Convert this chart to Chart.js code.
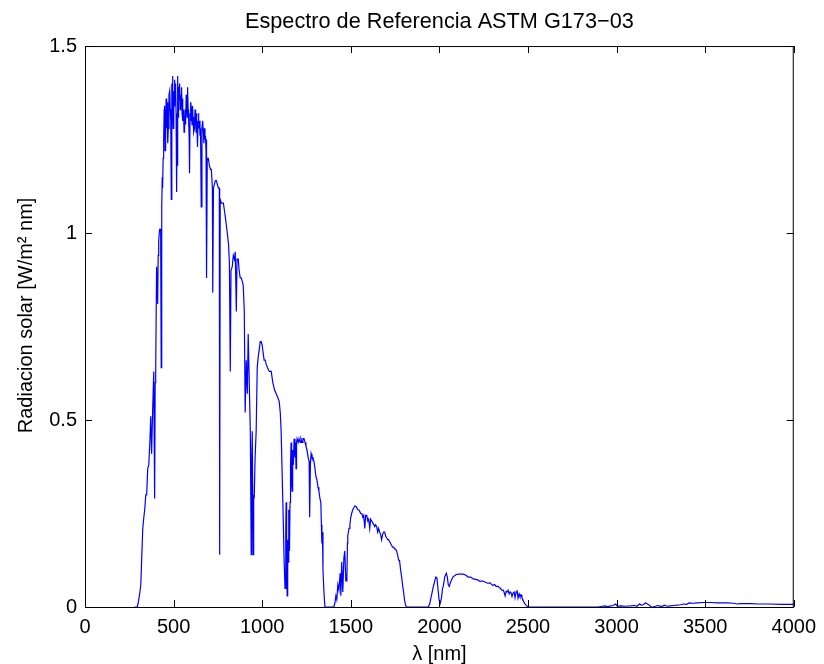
<!DOCTYPE html>
<html>
<head>
<meta charset="utf-8">
<script src="https://cdn.jsdelivr.net/npm/chart.js@4.4.1/dist/chart.umd.min.js"></script>
<style>
  body { margin: 0; background: #fff; }
  canvas { display: block; }
</style>
</head>
<body>
<canvas id="grafico" width="824" height="664"></canvas>
<script>
// espectro, por bandas (lambda en nm, radiacion en W/m2 nm)
const visibleLambda = [
  280, 295, 300, 310, 315, 320, 326, 332, 337, 343, 348, 354, 360, 366, 371, 376, 382, 388, 393, 396,
  399, 404, 410, 413, 416, 421, 427, 430, 433, 436, 438, 441, 444, 447, 449, 452, 455, 458, 461, 463,
  466, 468, 470, 474, 478, 481, 484, 487, 490, 492, 494, 496, 498, 501, 504, 506, 509, 511, 514, 517,
  520, 522, 524, 526, 528, 531, 534, 537, 540, 543, 545, 548, 550, 553, 556, 559, 562, 565, 568, 571,
  574, 577, 579, 582, 585, 588, 590, 593, 595, 598, 601, 604, 607, 610, 612, 615, 618, 621, 624, 627,
  629, 632, 635, 638, 640, 643, 646, 649, 652, 656, 660, 664, 668, 671, 674, 677, 680, 683, 685, 687,
  690, 696
];
const visibleRad = [
  0, 0, 0.01, 0.04, 0.06, 0.13, 0.21, 0.24, 0.26, 0.30, 0.30, 0.37, 0.38, 0.44, 0.51, 0.41, 0.53, 0.63, 0.29, 0.60,
  0.63, 0.91, 0.81, 0.94, 0.98, 1.01, 1.01, 0.64, 1.07, 1.15, 1.12, 1.20, 1.25, 1.33, 1.34, 1.22, 1.30, 1.36, 1.28, 1.33,
  1.35, 1.24, 1.28, 1.37, 1.38, 1.33, 1.30, 1.09, 1.40, 1.36, 1.42, 1.33, 1.28, 1.38, 1.34, 1.41, 1.36, 1.40, 1.32, 1.11,
  1.30, 1.18, 1.42, 1.31, 1.35, 1.39, 1.40, 1.33, 1.37, 1.34, 1.39, 1.32, 1.36, 1.30, 1.33, 1.27, 1.28, 1.33, 1.29, 1.37,
  1.35, 1.31, 1.39, 1.33, 1.30, 1.25, 1.16, 1.32, 1.30, 1.35, 1.33, 1.29, 1.34, 1.30, 1.31, 1.27, 1.28, 1.33, 1.31, 1.27,
  1.32, 1.30, 1.23, 1.30, 1.32, 1.28, 1.30, 1.26, 1.28, 1.07, 1.28, 1.30, 1.27, 1.24, 1.28, 1.25, 1.26, 1.22, 1.25, 0.88,
  1.20, 1.20
];

const nir1Lambda = [
  702, 708, 713, 719, 721, 725, 730, 736, 741, 747, 753, 758, 760, 763, 770, 776, 781, 790, 798, 803,
  810, 815, 820, 824, 831, 837, 843, 848, 854, 858, 865, 870, 876, 882, 888, 893, 899, 904, 910, 916,
  921, 927, 933, 938, 941, 944, 949, 952, 955, 960, 966, 972, 978, 984, 989, 994, 1000, 1005, 1011, 1017,
  1022, 1030, 1040, 1051, 1060, 1070, 1079, 1088, 1096, 1102, 1107, 1112, 1118, 1124, 1129, 1133, 1135, 1138, 1141, 1144,
  1146, 1150, 1154, 1157, 1160, 1163, 1166, 1169, 1172, 1176, 1180, 1185, 1188, 1191, 1194, 1197, 1203, 1208, 1214, 1219,
  1225, 1230, 1236, 1242, 1247, 1253, 1259, 1265, 1268, 1272, 1276, 1281, 1286, 1292, 1298, 1303, 1309, 1315, 1320, 1326,
  1331, 1334, 1337, 1340, 1343, 1348, 1354
];
const nir1Rad = [
  1.18, 1.17, 1.17, 1.12, 0.84, 1.12, 1.13, 1.14, 1.14, 1.13, 1.12, 1.12, 0.14, 1.09, 1.08, 1.08, 1.08, 1.05, 1.02, 1.00,
  0.97, 0.92, 0.63, 0.90, 0.91, 0.94, 0.93, 0.95, 0.79, 0.93, 0.93, 0.90, 0.88, 0.88, 0.87, 0.86, 0.79, 0.52, 0.66, 0.57,
  0.73, 0.60, 0.47, 0.14, 0.40, 0.47, 0.14, 0.30, 0.29, 0.40, 0.47, 0.64, 0.67, 0.69, 0.71, 0.71, 0.70, 0.68, 0.66, 0.66,
  0.65, 0.64, 0.63, 0.63, 0.60, 0.58, 0.57, 0.56, 0.55, 0.52, 0.47, 0.37, 0.25, 0.12, 0.05, 0.20, 0.28, 0.10, 0.03, 0.18,
  0.12, 0.26, 0.15, 0.28, 0.38, 0.44, 0.33, 0.31, 0.42, 0.38, 0.45, 0.40, 0.44, 0.37, 0.44, 0.45, 0.44, 0.45, 0.44, 0.45,
  0.44, 0.45, 0.45, 0.44, 0.43, 0.42, 0.40, 0.39, 0.24, 0.38, 0.41, 0.40, 0.40, 0.39, 0.37, 0.35, 0.34, 0.32, 0.31, 0.29,
  0.28, 0.22, 0.17, 0.20, 0.10, 0.045, 0
];

const nir2Lambda = [
  1404, 1410, 1416, 1421, 1427, 1433, 1440, 1444, 1449, 1455, 1461, 1466, 1472, 1478, 1481, 1483, 1490, 1495, 1500, 1505,
  1511, 1517, 1522, 1528, 1534, 1540, 1545, 1551, 1556, 1562, 1568, 1573, 1579, 1584, 1590, 1596, 1601, 1607, 1612, 1618,
  1624, 1630, 1635, 1640, 1646, 1652, 1657, 1663, 1668, 1674, 1680, 1685, 1691, 1697, 1702, 1708, 1713, 1719, 1725, 1730,
  1736, 1742, 1748, 1753, 1758, 1764, 1770, 1775, 1781, 1787, 1792, 1798, 1803, 1809, 1815, 1826
];
const nir2Rad = [
  0, 0.01, 0.03, 0.02, 0.06, 0.045, 0.09, 0.03, 0.12, 0.04, 0.13, 0.15, 0.07, 0.07, 0.17, 0.19, 0.21, 0.22, 0.24, 0.25,
  0.26, 0.265, 0.27, 0.27, 0.265, 0.26, 0.26, 0.255, 0.25, 0.25, 0.24, 0.245, 0.21, 0.245, 0.245, 0.23, 0.235, 0.21, 0.235, 0.23,
  0.225, 0.22, 0.215, 0.22, 0.215, 0.20, 0.21, 0.20, 0.195, 0.18, 0.195, 0.20, 0.20, 0.19, 0.185, 0.18, 0.18, 0.175, 0.17, 0.165,
  0.16, 0.16, 0.155, 0.155, 0.15, 0.14, 0.125, 0.125, 0.10, 0.08, 0.06, 0.04, 0.02, 0.005, 0, 0
];

const nir3Lambda = [
  1938, 1946, 1955, 1966, 1974, 1980, 1986, 1992, 1998, 2005, 2012, 2018, 2022, 2030, 2039, 2045, 2050, 2056, 2062, 2067,
  2076, 2084, 2095, 2107, 2120, 2135, 2150, 2163, 2177, 2191, 2205, 2219, 2230, 2240, 2258, 2275, 2285, 2292, 2300, 2312,
  2320, 2331, 2345, 2352, 2360, 2365, 2371, 2377, 2382, 2388, 2394, 2400, 2405, 2410, 2416, 2422, 2427, 2433, 2438, 2444,
  2450, 2455, 2461, 2466, 2472, 2480, 2489, 2500
];
const nir3Rad = [
  0, 0.01, 0.03, 0.055, 0.07, 0.08, 0.078, 0.05, 0.02, 0.01, 0.025, 0.05, 0.055, 0.08, 0.09, 0.08, 0.06, 0.055, 0.065, 0.07,
  0.08, 0.083, 0.087, 0.088, 0.088, 0.088, 0.085, 0.08, 0.08, 0.075, 0.074, 0.072, 0.068, 0.070, 0.067, 0.063, 0.065, 0.062, 0.058, 0.06,
  0.055, 0.055, 0.05, 0.045, 0.045, 0.04, 0.03, 0.042, 0.040, 0.045, 0.035, 0.04, 0.038, 0.028, 0.037, 0.04, 0.025, 0.04, 0.045, 0.024,
  0.035, 0.028, 0.032, 0.025, 0.019, 0.01, 0.005, 0
];

const irLambda = [
  2893, 2920, 2933, 2950, 2967, 2980, 2995, 3005, 3022, 3050, 3079, 3100, 3115, 3129, 3140, 3150, 3163, 3175, 3185, 3195,
  3202, 3220, 3230, 3241, 3255, 3270, 3285, 3304, 3320, 3343, 3360, 3380, 3395, 3410, 3430, 3455, 3490, 3528, 3570, 3624,
  3660, 3680, 3700, 3719, 3760, 3800, 3865, 3930, 4000
];
const irRad = [
  0, 0.002, 0.003, 0.001, 0.003, 0.004, 0.008, 0.002, 0.003, 0.002, 0.003, 0.004, 0.002, 0.008, 0.005, 0.006, 0.011, 0.008, 0.005, 0,
  0, 0.002, 0.004, 0.003, 0.001, 0.005, 0.002, 0.003, 0.004, 0.005, 0.006, 0.008, 0.007, 0.011, 0.01, 0.011, 0.012, 0.012, 0.011, 0.011,
  0.010, 0.008, 0.009, 0.009, 0.009, 0.008, 0.008, 0.007, 0.007
];

const ticksX = [0, 500, 1000, 1500, 2000, 2500, 3000, 3500, 4000];
const ticksY = [0, 0.5, 1, 1.5];

const lambda = [].concat(visibleLambda, nir1Lambda, nir2Lambda, nir3Lambda, irLambda);
const radiacion = [].concat(visibleRad, nir1Rad, nir2Rad, nir3Rad, irRad);

const fuente = "'Liberation Sans', Arial, Helvetica, sans-serif";

// caja tipo matlab con marcas hacia adentro
const cajaMatlab = {
  id: 'cajaMatlab',
  afterDraw(chart) {
    const { ctx, chartArea: a, scales: { x, y } } = chart;
    const L = 7;
    ctx.save();
    ctx.strokeStyle = '#000';
    ctx.lineWidth = 1;
    ctx.beginPath();
    ctx.rect(a.left + 0.5, a.top + 0.5, a.right - a.left - 1, a.bottom - a.top);
    ticksX.forEach(v => {
      const px = Math.round(x.getPixelForValue(v)) + 0.5;
      ctx.moveTo(px, a.bottom); ctx.lineTo(px, a.bottom - L);
      ctx.moveTo(px, a.top); ctx.lineTo(px, a.top + L);
    });
    ticksY.forEach(v => {
      const py = Math.round(y.getPixelForValue(v)) + 0.5;
      ctx.moveTo(a.left, py); ctx.lineTo(a.left + L, py);
      ctx.moveTo(a.right, py); ctx.lineTo(a.right - L, py);
    });
    ctx.stroke();
    ctx.restore();
  }
};

new Chart(document.getElementById('grafico'), {
  type: 'line',
  data: {
    datasets: [{
      data: lambda.map((l, i) => ({ x: l, y: radiacion[i] })),
      borderColor: '#0000ff',
      borderWidth: 1.2,
      pointRadius: 0,
      tension: 0,
      fill: false
    }]
  },
  options: {
    responsive: false,
    animation: false,
    layout: { padding: { left: 0, right: 27, top: 0, bottom: 0 } },
    plugins: {
      legend: { display: false },
      tooltip: { enabled: false },
      title: {
        display: true,
        fullSize: false,
        text: 'Espectro de Referencia ASTM G173\u221203',
        color: '#000',
        font: { family: fuente, size: 21.7, weight: 'normal' },
        padding: { top: 9, bottom: 11 }
      }
    },
    scales: {
      x: {
        type: 'linear',
        min: 0, max: 4000,
        afterBuildTicks: s => { s.ticks = ticksX.map(v => ({ value: v })); },
        afterFit: s => { s.height = 57; },
        grid: { display: false, drawTicks: false },
        border: { display: false },
        ticks: {
          color: '#000', padding: 8, maxRotation: 0,
          font: { family: fuente, size: 20 },
          callback: v => String(v)
        },
        title: {
          display: true, text: '\u03bb [nm]', color: '#000',
          font: { family: fuente, size: 20 },
          padding: { top: 0, bottom: -2 }
        }
      },
      y: {
        min: 0, max: 1.5,
        afterBuildTicks: s => { s.ticks = ticksY.map(v => ({ value: v })); },
        afterFit: s => { s.width = 85; },
        grid: { display: false, drawTicks: false },
        border: { display: false },
        ticks: {
          color: '#000', padding: 8,
          font: { family: fuente, size: 20 },
          callback: v => String(v)
        },
        title: {
          display: true, text: '    Radiacion solar [W/m\u00b2 nm]', color: '#000',
          font: { family: fuente, size: 20 },
          padding: { top: 14, bottom: 0 }
        }
      }
    }
  },
  plugins: [cajaMatlab]
});
</script>
</body>
</html>
